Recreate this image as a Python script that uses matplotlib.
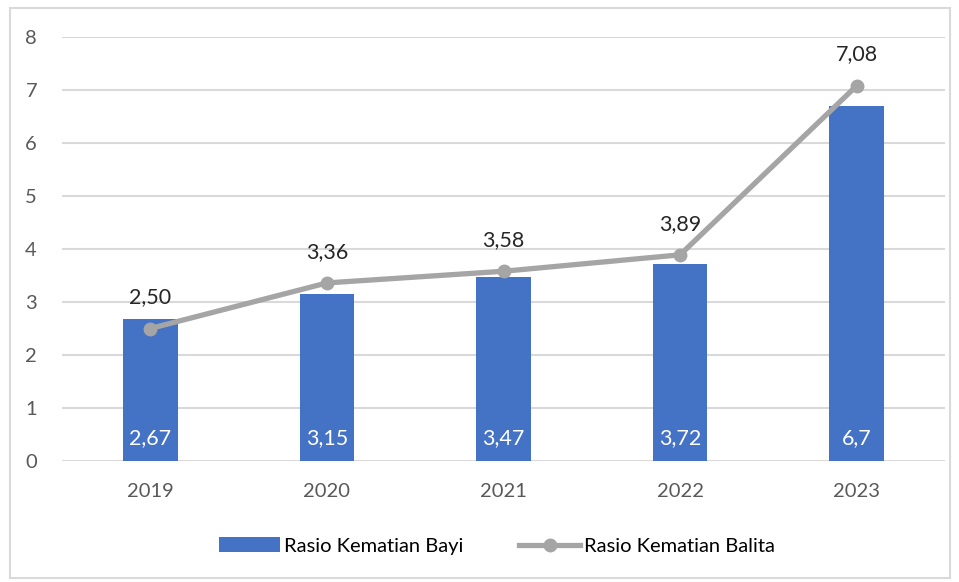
import matplotlib
matplotlib.use('Agg')
import matplotlib.pyplot as plt
from matplotlib.patches import Rectangle
from matplotlib.lines import Line2D
from matplotlib.patches import Patch

years = ['2019', '2020', '2021', '2022', '2023']
bayi = [2.67, 3.15, 3.47, 3.72, 6.7]
balita = [2.50, 3.36, 3.58, 3.89, 7.08]
bayi_labels = ['2,67', '3,15', '3,47', '3,72', '6,7']
balita_labels = ['2,50', '3,36', '3,58', '3,89', '7,08']

plt.rcParams['font.family'] = ['Lato', 'DejaVu Sans']

fig = plt.figure(figsize=(9.59, 5.82), dpi=100)
fig.patches.append(Rectangle((10/959, 1 - 578/582), 940/959, 570/582,
                             transform=fig.transFigure, fill=False,
                             edgecolor='#D9D9D9', linewidth=1.5))
ax = fig.add_axes([62/959, 1 - 461/582, 883/959, 424/582])

x = list(range(len(years)))
ax.bar(x, bayi, width=0.31, color='#4472C4', zorder=2)
ax.plot(x, balita, color='#A5A5A5', linewidth=3.8, marker='o', markersize=9, zorder=3)

for i in x:
    ax.text(i, 0.43, bayi_labels[i], ha='center', va='center', color='white', fontsize=15.5)
    ax.text(i, balita[i] + 0.4, balita_labels[i], ha='center', va='bottom', color='#262626', fontsize=15.5)

ax.set_xlim(-0.5, 4.5)
ax.set_ylim(0, 8)
ax.set_yticks(range(0, 9))
ax.set_xticks(x)
ax.set_xticklabels(years)
ax.grid(axis='y', color='#D9D9D9', linewidth=1.5, zorder=0)
ax.set_axisbelow(True)
for s in ax.spines.values():
    s.set_visible(False)
ax.tick_params(length=0, labelsize=14.5, colors='#595959')
ax.tick_params(axis='x', pad=16)
ax.tick_params(axis='y', pad=18)

handles = [Patch(facecolor='#4472C4', label='Rasio Kematian Bayi'),
           Line2D([], [], color='#A5A5A5', linewidth=3.8, marker='o', markersize=9, label='Rasio Kematian Balita')]
fig.legend(handles=handles, loc='center', bbox_to_anchor=(497/959, 1 - 546/582), ncol=2,
           frameon=False, fontsize=14.5, handlelength=3, columnspacing=2.8, handletextpad=0.2)

fig.savefig('out.png', dpi=100)
